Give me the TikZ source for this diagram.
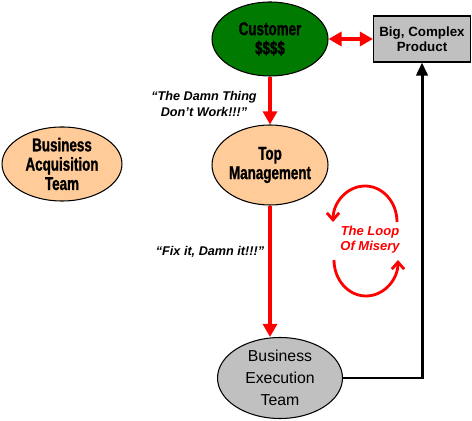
\documentclass[tikz,border=0pt]{standalone}
\usepackage{fontspec}
\setmainfont{Liberation Sans}
\newfontfamily\heavyfont{Liberation Sans Bold}[FakeStretch=0.72,FakeBold=1.2]
\usetikzlibrary{arrows.meta,shapes.geometric}
\definecolor{custgreen}{RGB}{0,122,0}
\definecolor{teampeach}{RGB}{255,204,153}
\definecolor{boxgray}{RGB}{192,192,192}
\definecolor{alarmred}{RGB}{255,0,0}
\tikzset{
  ell/.style   ={ellipse, draw=black, line width=0.6pt, inner sep=0pt, align=center},
  heavy/.style ={font=\heavyfont\fontsize{10.6}{11}\selectfont},
  plain/.style ={font=\fontsize{9}{12.5}\selectfont},
  boxf/.style  ={draw=black, line width=0.6pt, fill=boxgray, align=center,
                 font=\bfseries\fontsize{7.6}{8.6}\selectfont},
  qt/.style    ={align=center, inner sep=1pt, font=\bfseries\itshape\fontsize{7.2}{9}\selectfont},
  redarr/.style={draw=alarmred, line width=2.3pt, -{Triangle[length=7.5pt,width=8pt]}},
  blkarr/.style={draw=black, line width=1.7pt, -{Triangle[length=7.5pt,width=6.5pt]}},
  looparr/.style={draw=alarmred, line width=1.6pt, -{Straight Barb[length=4pt,width=7pt]}},
}
\begin{document}
\begin{tikzpicture}[x=0.02cm,y=-0.02cm]
  \useasboundingbox (0,0) rectangle (472,421);
  % nodes
  \node[ell, heavy, fill=custgreen, minimum width=2.32cm, minimum height=1.48cm] (cust) at (270,39) {Customer\\\$\$\$\$};
  \node[boxf, minimum width=1.84cm, minimum height=0.92cm] (prod) at (422,39) {Big, Complex\\Product};
  \node[ell, heavy, fill=teampeach, minimum width=2.32cm, minimum height=1.6cm] (topm) at (270,165) {Top\\Management};
  \node[ell, heavy, fill=teampeach, minimum width=2.4cm, minimum height=1.48cm] (acq) at (62,164) {Business\\Acquisition\\Team};
  \node[ell, plain, fill=boxgray, minimum width=2.5cm, minimum height=1.62cm] (exec) at (280,378) {Business\\Execution\\Team};
  % labels
  \node[qt] (damn) at (204,104) {“The Damn Thing\\Don't Work!!!”};
  \node[qt] (fixit) at (210,252) {“Fix it, Damn it!!!”};
  \node[qt, text=alarmred, font=\bfseries\itshape\fontsize{7.4}{8.6}\selectfont] (loop) at (370,240) {The Loop\\Of Misery};
  % connectors
  \draw[redarr, {Triangle[length=7.5pt,width=8pt]}-{Triangle[length=7.5pt,width=8pt]}] (cust) -- (prod);
  \draw[redarr] (cust) -- (topm);
  \draw[redarr] (topm.south) -- (topm.south |- exec.north);
  \draw[blkarr] (exec.east) -| (prod.south);
  % loop of misery
  \draw[looparr] (397,222) arc[start angle=0, end angle=180, x radius=0.64cm, y radius=0.72cm];
  \draw[looparr] (334,260) arc[start angle=180, end angle=360, x radius=0.64cm, y radius=0.72cm];
\end{tikzpicture}
\end{document}
